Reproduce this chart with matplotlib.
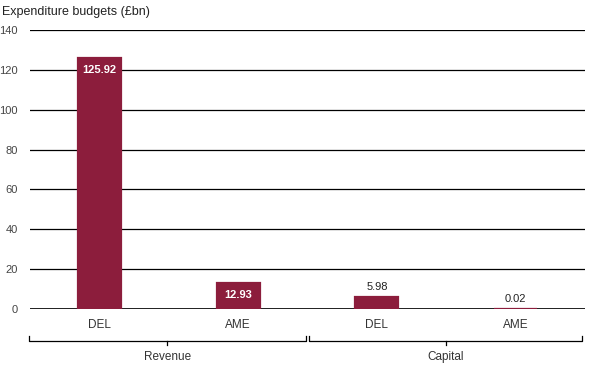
import matplotlib.pyplot as plt
import matplotlib.transforms as mtransforms

plt.rcParams['font.family'] = ['Liberation Sans', 'DejaVu Sans']

categories = ['DEL', 'AME', 'DEL', 'AME']
values = [125.92, 12.93, 5.98, 0.02]
groups = ['Revenue', 'Capital']
yticks = [0, 20, 40, 60, 80, 100, 120, 140]

bar_color = '#8c1d3c'

fig = plt.figure(figsize=(5.91, 3.66), dpi=100)
ax = fig.add_axes([0.0508, 0.1557, 0.939, 0.7623])

x = list(range(len(values)))
# edge keeps the tiny 0.02 bar visible as a thin strip
ax.bar(x, values, width=0.31, color=bar_color, edgecolor=bar_color,
       linewidth=1.6, zorder=6)

for xi, v in zip(x, values):
    if v > 10:
        ax.annotate(f'{v:.2f}', (xi, v), xytext=(0, -8.5), textcoords='offset points',
                    ha='center', va='center', color='white', fontsize=8,
                    fontweight='bold', zorder=7)
    else:
        ax.annotate(f'{v:.2f}', (xi, v), xytext=(0, 7), textcoords='offset points',
                    ha='center', va='center', color='#222222', fontsize=8, zorder=7)

ax.set_xlim(-0.5, 3.5)
ax.set_ylim(0, 140)
ax.set_yticks(yticks)
ax.set_xticks(x)
ax.set_xticklabels(categories)
ax.yaxis.grid(True, color='black', linewidth=0.9, zorder=0)
ax.set_axisbelow(True)
for s in ax.spines.values():
    s.set_visible(False)
ax.axhline(0, color='black', linewidth=1.2, zorder=5)
ax.tick_params(axis='y', length=0, pad=9, labelsize=8, labelcolor='#444444')
ax.tick_params(axis='x', length=0, pad=7, labelsize=8.5, labelcolor='#333333')

fig.text(0.004, 0.967, 'Expenditure budgets (£bn)', fontsize=9, color='#222222',
         ha='left', va='center')

# group brackets
trans = mtransforms.blended_transform_factory(ax.transData, ax.transAxes)
yb, ye, ym = -0.1147, -0.0968, -0.129
spans = [(-0.51, 1.49), (1.51, 3.48)]
for (x0, x1), name in zip(spans, groups):
    mid = (x0 + x1) / 2
    ax.plot([x0, x0, x1, x1], [ye, yb, yb, ye], color='black', lw=0.9,
            transform=trans, clip_on=False)
    ax.plot([mid, mid], [yb, ym], color='black', lw=0.9, transform=trans, clip_on=False)
    ax.text(mid, -0.172, name, transform=trans, ha='center', va='center',
            fontsize=8.5, color='#333333')

fig.savefig('out.png', dpi=100)
